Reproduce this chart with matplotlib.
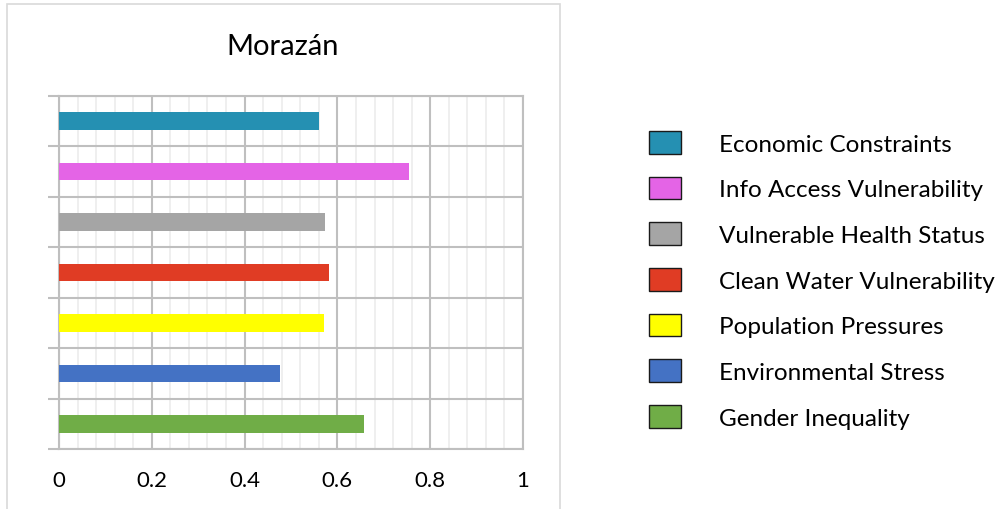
import matplotlib.pyplot as plt
from matplotlib.patches import Patch, Rectangle
import numpy as np

# dados (de cima para baixo)
categorias = ['Economic Constraints', 'Info Access Vulnerability', 'Vulnerable Health Status',
              'Clean Water Vulnerability', 'Population Pressures', 'Environmental Stress',
              'Gender Inequality']
valores = [0.560, 0.754, 0.573, 0.582, 0.571, 0.476, 0.657]
cores = ['#2590b2', '#e464e6', '#a5a5a5', '#e03c24', '#ffff00', '#4472c4', '#70ad47']
xticks = [0, 0.2, 0.4, 0.6, 0.8, 1]
xticklabels = ['0', '0.2', '0.4', '0.6', '0.8', '1']
titulo = 'Morazán'

plt.rcParams['font.family'] = ['Lato', 'DejaVu Sans']

fig = plt.figure(figsize=(10.01, 5.10), dpi=100)
ax = fig.add_axes([59 / 1001, 1 - 450 / 510, 464 / 1001, 353 / 510])

n = len(categorias)
pos = np.arange(n)[::-1]
ax.barh(pos, valores, height=0.35, color=cores, zorder=3)

ax.set_xlim(0, 1)
ax.set_ylim(-0.5, n - 0.5)
ax.set_xticks(xticks)
ax.set_xticklabels(xticklabels, fontsize=16)
ax.set_xticks(np.arange(0, 1.0001, 0.04), minor=True)
ax.tick_params(axis='x', which='both', length=0, pad=15)
ax.set_yticks(np.arange(-0.5, n, 1))
ax.set_yticklabels([])
ax.tick_params(axis='y', length=8, width=1.5, color='#bfbfbf')

ax.grid(axis='x', which='minor', color='#ececec', linewidth=1.2, zorder=0)
ax.grid(axis='x', which='major', color='#bfbfbf', linewidth=1.5, zorder=1)
ax.grid(axis='y', which='major', color='#bfbfbf', linewidth=1.5, zorder=1)
for s in ax.spines.values():
    s.set_color('#bfbfbf')
    s.set_linewidth(1.5)

fig.text(283 / 1001, 1 - 47 / 510, titulo, fontsize=21, ha='center', va='center')

# moldura da área do gráfico
fig.patches.append(Rectangle((7 / 1001, -0.05), 553 / 1001, 1.04, transform=fig.transFigure,
                             fill=False, edgecolor='#d9d9d9', linewidth=1.2))

handles = [Patch(facecolor=c, edgecolor='#1a1a1a', linewidth=1) for c in cores]
fig.legend(handles, categorias, loc='upper left', bbox_to_anchor=(649 / 1001, 1 - 132 / 510),
           frameon=False, fontsize=17.5, handlelength=1.32, handleheight=1.05,
           handletextpad=1.56, labelspacing=0.91, borderaxespad=0, borderpad=0)

fig.savefig('out.png', dpi=100)
